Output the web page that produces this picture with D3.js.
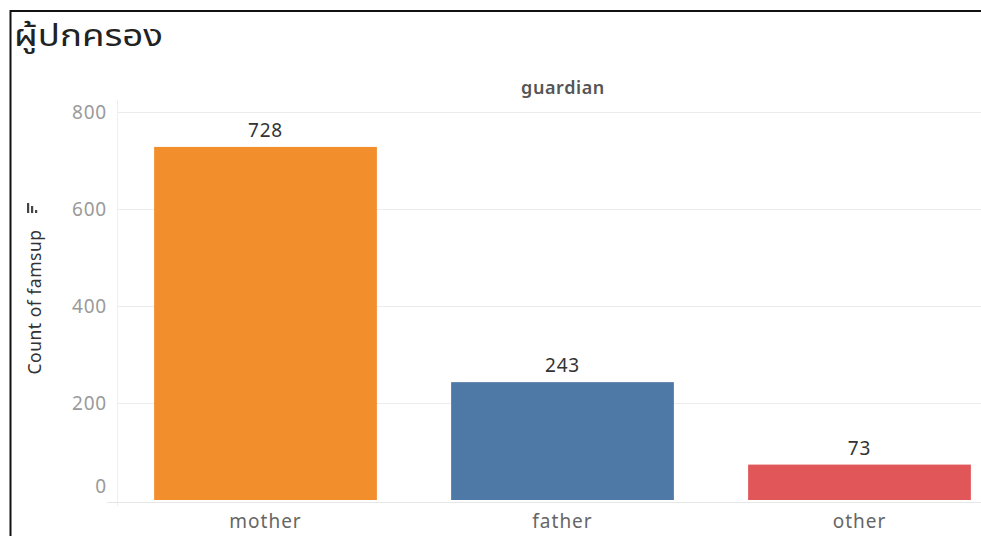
<!DOCTYPE html>
<html>
<head>
<meta charset="utf-8">
<script src="https://cdn.jsdelivr.net/npm/d3@7"></script>
<style>
  html, body { margin: 0; padding: 0; background: #fff; }
  svg { display: block; }
</style>
</head>
<body>
<svg id="chart" width="981" height="536"></svg>
<script>
// Guardian counts (famsup records per guardian type)
const categories = ["mother", "father", "other"];
const counts = [728, 243, 73];
const barColors = ["#F28E2B", "#4E79A7", "#E15759"];
const yTicks = [0, 200, 400, 600, 800];

const svg = d3.select("#chart");
const W = 981, H = 536;
const font = "'Noto Sans', 'Open Sans', sans-serif";

// Frame (top and left rule of the dashboard tile)
svg.append("line").attr("x1", 10).attr("x2", W).attr("y1", 11).attr("y2", 11)
  .attr("stroke", "#111").attr("stroke-width", 2);
svg.append("line").attr("x1", 10.5).attr("x2", 10.5).attr("y1", 10).attr("y2", H)
  .attr("stroke", "#111").attr("stroke-width", 2);

// Title
svg.append("text").attr("x", 14).attr("y", 46)
  .attr("font-family", "'Noto Sans Thai', 'Noto Sans', sans-serif")
  .attr("font-size", 31).attr("fill", "#222")
  .attr("textLength", 149).attr("lengthAdjust", "spacingAndGlyphs")
  .text("ผู้ปกครอง");

// Column header
svg.append("text").attr("x", 563).attr("y", 94)
  .attr("text-anchor", "middle").attr("font-family", font)
  .attr("font-size", 18).attr("font-weight", 600).attr("fill", "#555")
  .attr("letter-spacing", 0.6)
  .text("guardian");

// Scales: the pane runs past the right edge of the tile
const paneLeft = 117, step = 297;
const x = d3.scaleBand().domain(categories)
  .range([paneLeft, paneLeft + step * categories.length])
  .paddingInner(0.25).paddingOuter(0.125);
const y = d3.scaleLinear().domain([0, 800]).range([500, 112]);

// Gridlines
svg.append("g").selectAll("line").data(yTicks.filter(d => d > 0)).join("line")
  .attr("x1", paneLeft).attr("x2", W)
  .attr("y1", d => Math.round(y(d)) + 0.5).attr("y2", d => Math.round(y(d)) + 0.5)
  .attr("stroke", "#ececec").attr("stroke-width", 1);

// Pane edge and baseline
svg.append("line").attr("x1", paneLeft + 0.5).attr("x2", paneLeft + 0.5)
  .attr("y1", 100).attr("y2", 506).attr("stroke", "#eeeeee");
svg.append("line").attr("x1", paneLeft - 10).attr("x2", W)
  .attr("y1", 502.5).attr("y2", 502.5).attr("stroke", "#e6e6e6");

// Y axis labels
const yAxis = d3.axisLeft(y).tickValues(yTicks).tickSize(0).tickPadding(10);
const gy = svg.append("g").attr("transform", `translate(${paneLeft},0)`).call(yAxis);
gy.select(".domain").remove();
gy.selectAll("text").attr("font-family", font).attr("font-size", 19)
  .attr("letter-spacing", 0.8)
  .attr("fill", "#9a9a9a").attr("dy", d => d === 0 ? "-0.4em" : "0.32em");

// Axis title with sort glyph
svg.append("text")
  .attr("transform", "translate(41,302) rotate(-90)")
  .attr("text-anchor", "middle").attr("font-family", font)
  .attr("font-size", 17.5).attr("fill", "#333")
  .attr("letter-spacing", 0.5)
  .text("Count of famsup");
const glyph = svg.append("g").attr("transform", "translate(27,203)");
[[0, 10], [4, 7], [8, 3]].forEach(([dx, h]) => {
  glyph.append("rect").attr("x", dx).attr("y", 10 - h).attr("width", 2.2).attr("height", h)
    .attr("fill", "#444");
});

// Bars
svg.append("g").selectAll("rect").data(categories).join("rect")
  .attr("x", d => x(d)).attr("width", x.bandwidth())
  .attr("y", (d, i) => y(counts[i]))
  .attr("height", (d, i) => y(0) - y(counts[i]))
  .attr("fill", (d, i) => barColors[i]);

// Value labels
svg.append("g").selectAll("text").data(categories).join("text")
  .attr("x", d => x(d) + x.bandwidth() / 2)
  .attr("y", (d, i) => y(counts[i]) - 10)
  .attr("text-anchor", "middle").attr("font-family", font)
  .attr("font-size", 19).attr("fill", "#333").attr("letter-spacing", 0.8)
  .text((d, i) => counts[i]);

// Category labels
const xAxis = d3.axisBottom(x).tickSize(0).tickPadding(10);
const gx = svg.append("g").attr("transform", "translate(0,505)").call(xAxis);
gx.select(".domain").remove();
gx.selectAll("text").attr("font-family", font).attr("font-size", 19)
  .attr("letter-spacing", 1).attr("fill", "#666");
</script>
</body>
</html>
